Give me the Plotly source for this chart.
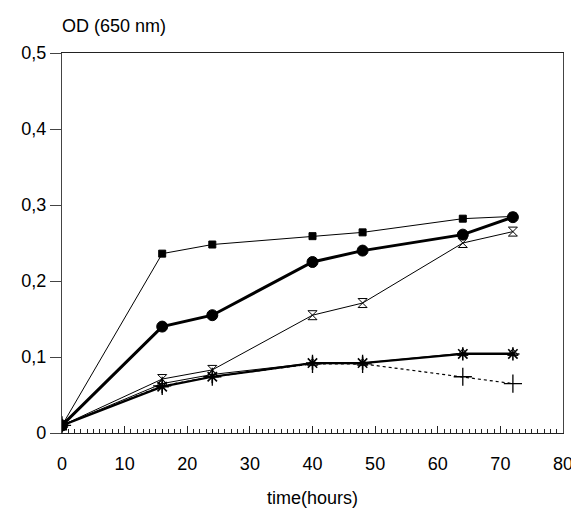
import plotly.graph_objects as go

time_h = [0, 16, 24, 40, 48, 64, 72]
od_square = [0.010, 0.236, 0.248, 0.259, 0.264, 0.282, 0.285]
od_circle = [0.010, 0.140, 0.155, 0.225, 0.240, 0.261, 0.284]
od_hourglass = [0.010, 0.071, 0.083, 0.155, 0.171, 0.250, 0.265]
od_star = [0.010, 0.061, 0.074, 0.092, 0.092, 0.104, 0.104]
od_triangle = [0.010, 0.065, 0.077, 0.092, 0.092, 0.105, 0.105]
od_plus = [0.010, 0.062, 0.074, 0.091, 0.091, 0.074, 0.065]

fig = go.Figure()

def add(y, symbol, size, lw, dash="solid", mlw=1):
    fig.add_trace(go.Scatter(
        x=time_h, y=y, mode="lines+markers",
        line=dict(color="black", width=lw, dash=dash),
        marker=dict(symbol=symbol, size=size, color="black",
                    line=dict(color="black", width=mlw)),
        showlegend=False))

add(od_plus, "cross-thin-open", 13, 1.2, dash="dot", mlw=1.3)
add(od_triangle, "triangle-up-open", 9, 1.0)
add(od_star, "asterisk-open", 11, 2.2, mlw=1.6)
add(od_hourglass, "hourglass-open", 9, 1.0)
add(od_square, "square", 7, 1.0)
add(od_circle, "circle", 11, 3.0)

font = dict(family="Liberation Sans, Arial, sans-serif", size=18, color="black")

fig.update_layout(
    width=571, height=501,
    margin=dict(l=54, r=16, t=45, b=76, autoexpand=False),
    paper_bgcolor="white", plot_bgcolor="white",
    separators=",.",
    font=font,
    xaxis=dict(range=[0, 80], dtick=10, ticks="inside", ticklen=7,
               tickcolor="#222", tickwidth=1,
               minor=dict(dtick=1, ticks="inside", ticklen=4, tickcolor="#222", tickwidth=1),
               showline=True, linecolor="#222", linewidth=1, mirror=True,
               showgrid=False, zeroline=False, automargin=False,
               ticklabelstandoff=14,
               title=dict(text="time(hours)", standoff=18, font=font),
               tickfont=font),
    yaxis=dict(range=[0, 0.5], dtick=0.1, ticks="outside", ticklen=11,
               tickcolor="#444", tickwidth=1,
               showline=True, linecolor="#444", linewidth=1.3, mirror=True,
               showgrid=False, zeroline=False, automargin=False,
               ticklabelstandoff=0, tickfont=font),
    annotations=[dict(text="OD (650 nm)", x=-0.003, y=1.04, xref="paper", yref="paper",
                      xanchor="left", yanchor="bottom", showarrow=False, font=font)],
)

fig.write_html("out.html")
